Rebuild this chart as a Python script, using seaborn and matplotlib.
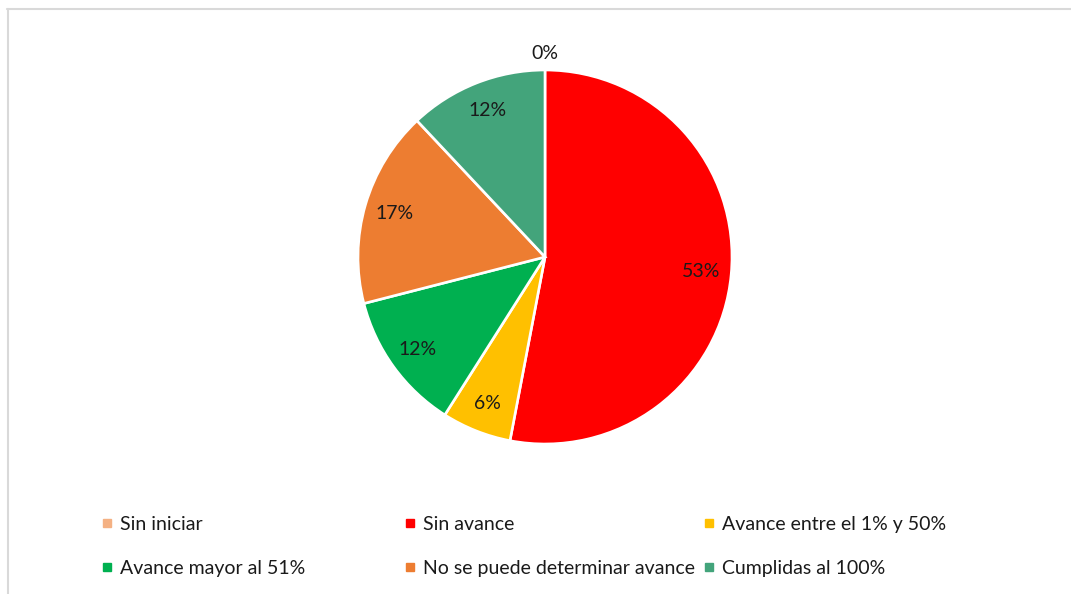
import numpy as np
import matplotlib
matplotlib.use("Agg")
import matplotlib.pyplot as plt
from matplotlib.lines import Line2D
import seaborn as sns

categories = ["Sin iniciar", "Sin avance", "Avance entre el 1% y 50%",
              "Avance mayor al 51%", "No se puede determinar avance",
              "Cumplidas al 100%"]
values = [0, 53, 6, 12, 17, 12]
colors = ["#F4B183", "#FF0000", "#FFC000", "#00B050", "#ED7D31", "#43A47B"]

sns.set_theme(style="white")
plt.rcParams["font.family"] = ["Lato", "DejaVu Sans"]

W, H = 1071, 594
fig = plt.figure(figsize=(W / 100, H / 100), dpi=100)
fig.patch.set_facecolor("white")

cx, cy, r = 545, 257, 187
ax = fig.add_axes([(cx - r) / W, (H - cy - r) / H, 2 * r / W, 2 * r / H])
wedges, texts, autotexts = ax.pie(
    values, colors=colors, startangle=90, counterclock=False,
    autopct=lambda p: f"{p:.0f}%", pctdistance=0.84,
    wedgeprops=dict(edgecolor="white", linewidth=1.9),
    textprops=dict(fontsize=14, color="#1a1a1a"))
ax.set_xlim(-1, 1)
ax.set_ylim(-1, 1)
ax.set_aspect("equal")
ax.axis("off")

# move zero-valued label outside the pie
for w, t, v in zip(wedges, autotexts, values):
    if v == 0:
        ang = np.deg2rad((w.theta1 + w.theta2) / 2)
        t.set_position((1.09 * np.cos(ang), 1.09 * np.sin(ang)))

# border lines (partial frame)
fig.add_artist(Line2D([7 / W, 1], [1 - 8.5 / H, 1 - 8.5 / H],
                      transform=fig.transFigure, color="#D9D9D9", lw=1.5))
fig.add_artist(Line2D([8 / W, 8 / W], [0, 1 - 8.5 / H],
                      transform=fig.transFigure, color="#D9D9D9", lw=1.5))

# legend: 3 equal-width columns, row-major order
col_x = [101, 404, 703]
for c in range(3):
    idx = [c, c + 3]
    handles = [Line2D([], [], marker="s", linestyle="none", markersize=6,
                      markerfacecolor=colors[i], markeredgecolor=colors[i])
               for i in idx]
    fig.legend(handles, [categories[i] for i in idx],
               loc="upper left", bbox_to_anchor=(col_x[c] / W, 1 - 516 / H),
               frameon=False, fontsize=14, handlelength=0.6,
               handletextpad=0.4, labelspacing=1.37, borderpad=0,
               borderaxespad=0, labelcolor="#1a1a1a")

fig.savefig("out.png", dpi=100, facecolor="white")
